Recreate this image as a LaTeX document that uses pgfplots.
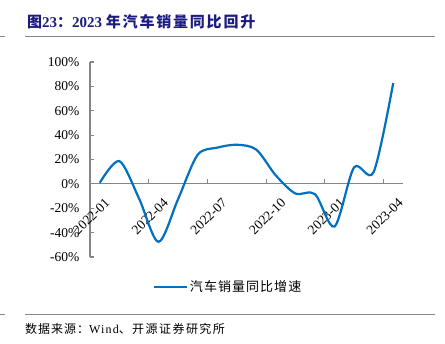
\documentclass[border=0pt]{standalone}
\usepackage{fontspec}
\setmainfont{Liberation Serif}
\newfontfamily\cjk{Noto Sans CJK SC}
\newfontfamily\cjkb{Noto Sans CJK SC Bold}
\usepackage{pgfplots}
\pgfplotsset{compat=1.18}
\definecolor{lineblue}{HTML}{0070C0}
\definecolor{navy}{HTML}{1C1C80}
\definecolor{axgray}{HTML}{868686}
\begin{document}
\begin{tikzpicture}
\path[use as bounding box] (0pt,0pt) rectangle (445pt,344pt);
% title and rules
\node[anchor=base west, inner sep=0, text=navy, font=\fontsize{15}{17}\selectfont\bfseries] at (27pt,316pt)
  {{\cjkb\addfontfeature{LetterSpace=10}图}23{\cjkb ：}2023 {\cjkb\addfontfeature{LetterSpace=12}年汽车销量同比回升}};
\draw[axgray, line width=1pt] (25pt,307pt) -- (435pt,307pt);
\draw[axgray, line width=1pt] (0pt,307pt) -- (5pt,307pt);
\draw[axgray, line width=1pt] (25pt,29pt) -- (435pt,29pt);
\draw[axgray, line width=1pt] (0pt,29pt) -- (5pt,29pt);
\node[anchor=base west, inner sep=0, font=\fontsize{12}{14}\selectfont] at (25pt,10pt)
  {{\cjk\addfontfeature{LetterSpace=8}数据来源：}{\addfontfeature{LetterSpace=10}Wind}{\cjk\addfontfeature{LetterSpace=12}、开源证券研究所}};
\begin{axis}[
  at={(90pt,87pt)}, anchor=south west,
  scale only axis, width=313pt, height=195pt,
  xmin=0, xmax=16, ymin=-60, ymax=100,
  axis x line*=middle, axis y line*=left,
  axis line style={axgray, line width=1.1pt},
  tick style={axgray, line width=1.1pt},
  major tick length=4.5pt,
  tick align=inside,
  xtick={3,6,9,12,15}, xticklabels={},
  extra x ticks={0.5,3.5,6.5,9.5,12.5,15.5},
  extra x tick labels={2022-01,2022-04,2022-07,2022-10,2023-01,2023-04},
  extra x tick style={major tick length=0pt,
     xticklabel style={rotate=45, anchor=east, yshift=-17pt, xshift=-3pt}},
  ytick={-60,-40,-20,0,20,40,60,80,100},
  yticklabels={-60\%,-40\%,-20\%,0\%,20\%,40\%,60\%,80\%,100\%},
  yticklabel style={xshift=-7pt},
  ticklabel style={font=\fontsize{13.5}{15}\selectfont},
  clip=false,
  legend style={at={(0.441,-0.154)}, anchor=center, draw=none, fill=none,
     font=\fontsize{13}{15}\selectfont\cjk\addfontfeature{LetterSpace=8},
     /tikz/every even column/.append style={column sep=0pt}},
  legend image code/.code={\draw[#1] (0pt,0pt) -- (33pt,0pt);},
]
\addplot[lineblue, line width=2.2pt, smooth, tension=0.5] coordinates {
(0.5,0.9) (1.5,18.7) (2.5,-11.7) (3.5,-47.6) (4.5,-12.6) (5.5,23.8)
(6.5,29.7) (7.5,32.1) (8.5,28.1) (9.5,6.9) (10.5,-7.9) (11.5,-8.4)
(12.5,-35.0) (13.5,13.5) (14.5,9.7) (15.5,82.7)};
\addlegendentry{汽车销量同比增速}
\end{axis}
\end{tikzpicture}
\end{document}
